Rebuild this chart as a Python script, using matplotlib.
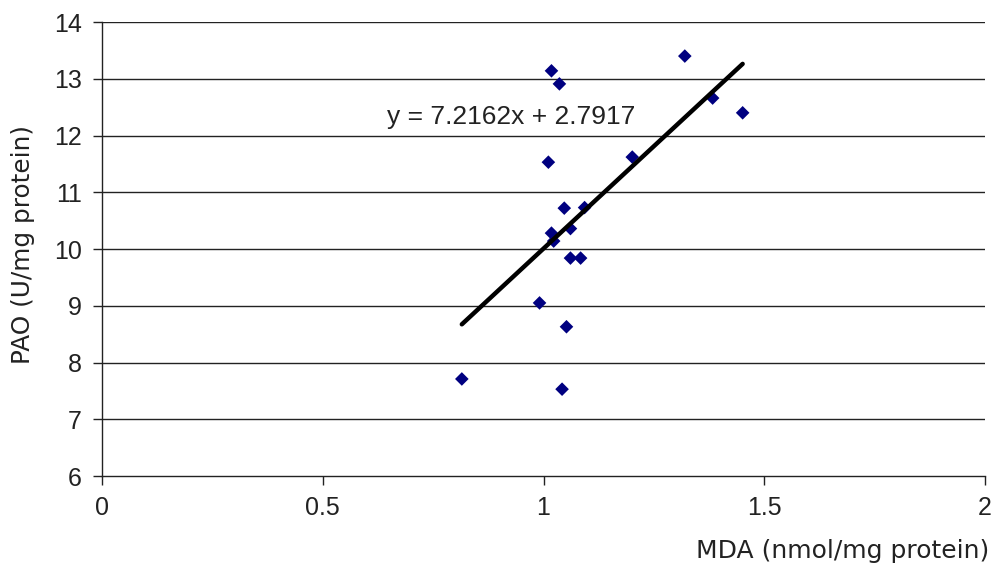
import numpy as np
import matplotlib
matplotlib.use("Agg")
import matplotlib.pyplot as plt

# MDA (x) and PAO (y) values
mda = [1.018, 1.036, 1.320, 1.383, 1.451, 1.011, 1.201, 1.047, 1.093,
       1.018, 1.023, 1.061, 1.061, 1.084, 0.991, 1.052, 0.815, 1.042]
pao = [13.14, 12.91, 13.40, 12.66, 12.40, 11.53, 11.62, 10.72, 10.73,
       10.28, 10.14, 10.36, 9.84, 9.84, 9.05, 8.63, 7.71, 7.53]

# trend line from the chart's equation
slope = 7.2162
intercept = 2.7917

x_ticks = [0, 0.5, 1, 1.5, 2]
x_tick_labels = ["0", "0.5", "1", "1.5", "2"]
y_ticks = [6, 7, 8, 9, 10, 11, 12, 13, 14]

fig = plt.figure(figsize=(9.92, 5.66), dpi=100)
ax = fig.add_axes([0.1028, 0.159, 0.8902, 0.8021])

for yt in y_ticks[1:]:
    ax.axhline(yt, color="#222222", lw=1.0, zorder=1)

ax.scatter(mda, pao, marker="D", s=48, color="#000080", edgecolors="none", zorder=3)

x_fit = np.array([min(mda), max(mda)])
ax.plot(x_fit, slope * x_fit + intercept, color="black", lw=3.2,
        solid_capstyle="round", zorder=4)

ax.text(0.926, 12.33, "y = 7.2162x + 2.7917", fontsize=19, ha="center", va="center",
        family="Liberation Sans", color="#222222")

ax.set_xlim(0, 2)
ax.set_ylim(6, 14)
ax.set_xticks(x_ticks)
ax.set_xticklabels(x_tick_labels)
ax.set_yticks(y_ticks)
for lab in ax.get_xticklabels() + ax.get_yticklabels():
    lab.set_family("Liberation Sans")
    lab.set_fontsize(18)
    lab.set_color("#222222")
ax.tick_params(direction="out", length=6.5, width=1, color="#222222", pad=8)

for side in ["top", "right"]:
    ax.spines[side].set_visible(False)
for side in ["left", "bottom"]:
    ax.spines[side].set_color("#222222")
    ax.spines[side].set_linewidth(1.0)

ax.set_ylabel("PAO (U/mg protein)", fontsize=17.8, family="DejaVu Sans",
              color="#222222")
ax.yaxis.set_label_coords(-0.076, 0.509)
fig.text(0.997, 0.006, "MDA (nmol/mg protein)", fontsize=18, family="DejaVu Sans",
         ha="right", va="bottom", color="#222222")

fig.savefig("out.png", dpi=100, facecolor="white")
